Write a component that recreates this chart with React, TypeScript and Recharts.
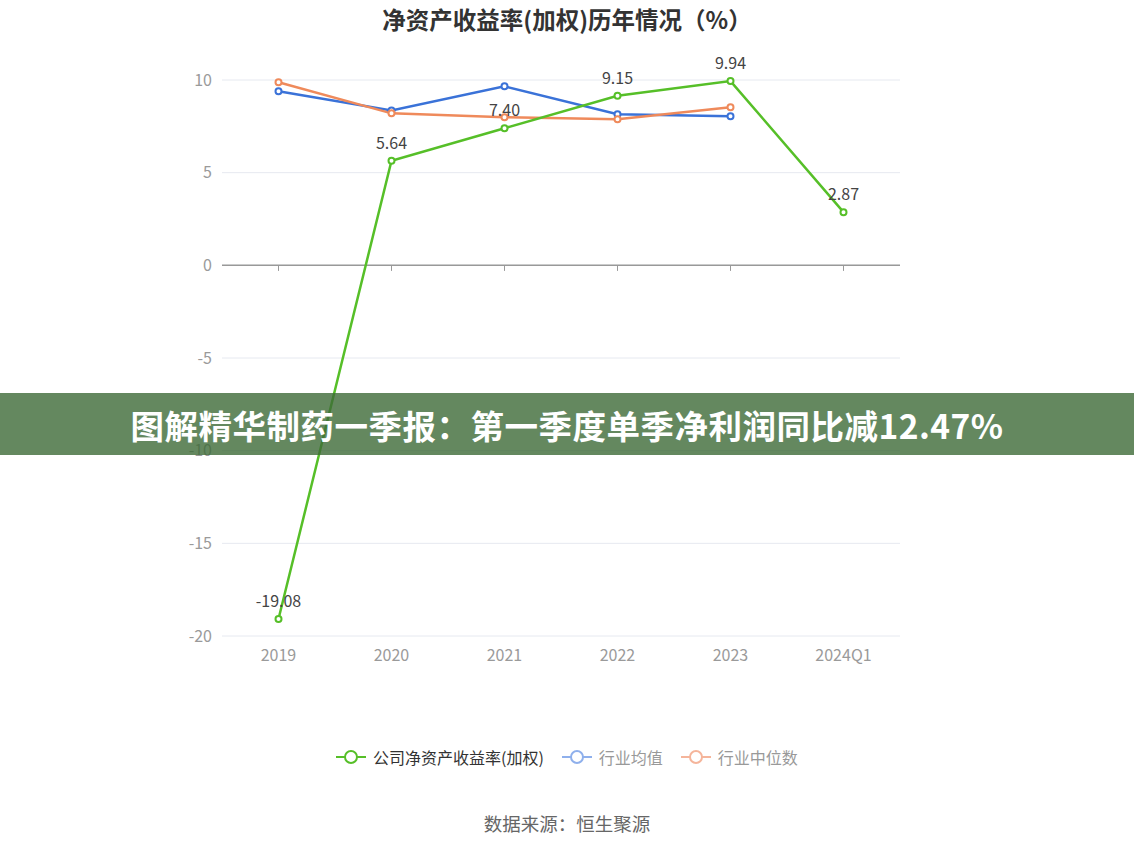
import React from 'react';
import {
  LineChart,
  Line,
  XAxis,
  YAxis,
  CartesianGrid,
  ReferenceLine,
  LabelList,
} from 'recharts';

const years = ['2019', '2020', '2021', '2022', '2023', '2024Q1'];
const companyRoe = [-19.08, 5.64, 7.4, 9.15, 9.94, 2.87];
const industryMean = [9.39, 8.36, 9.66, 8.15, 8.04, null];
const industryMedian = [9.88, 8.2, 7.99, 7.88, 8.53, null];
const yTicks = [-20, -15, -10, -5, 0, 5, 10];

const GREEN = '#56bf28';
const BLUE = '#3a72d8';
const ORANGE = '#ef8a5b';
const FONT = '"Microsoft YaHei", "Noto Sans CJK SC", "Noto Sans", sans-serif';

const data = years.map((year, i) => ({
  year,
  company: companyRoe[i],
  mean: industryMean[i],
  median: industryMedian[i],
}));

function LegendItem({ color, label, textColor }: { color: string; label: string; textColor: string }) {
  return (
    <div style={{ display: 'flex', alignItems: 'center', marginRight: 18 }}>
      <svg width={30} height={16}>
        <line x1={0} y1={8} x2={30} y2={8} stroke={color} strokeWidth={2} />
        <circle cx={15} cy={8} r={6} fill="#fff" stroke={color} strokeWidth={2} />
      </svg>
      <span style={{ marginLeft: 7, fontSize: 16, color: textColor }}>{label}</span>
    </div>
  );
}

export default function App() {
  return (
    <div
      style={{
        position: 'absolute',
        left: 0,
        top: 0,
        width: 1134,
        height: 849,
        background: '#fff',
        fontFamily: FONT,
        overflow: 'hidden',
      }}
    >
      <div
        style={{
          position: 'absolute',
          top: 2,
          width: 1134,
          textAlign: 'center',
          fontSize: 23.5,
          fontWeight: 'bold',
          color: '#333',
        }}
      >
        净资产收益率(加权)历年情况（%）
      </div>
      <div style={{ position: 'absolute', left: 0, top: 0 }}>
        <LineChart
          width={1134}
          height={849}
          data={data}
          margin={{ top: 80, right: 234, bottom: 183, left: 162 }}
        >
          <CartesianGrid vertical={false} stroke="#e6e9f0" />
          <XAxis
            dataKey="year"
            axisLine={false}
            tickLine={false}
            height={30}
            padding={{ left: 56.5, right: 56.5 }}
            tick={{ fill: '#9a9a9a', fontSize: 16, fontFamily: FONT }}
            tickMargin={8}
          />
          <YAxis
            width={60}
            domain={[-20, 10]}
            ticks={yTicks}
            axisLine={false}
            tickLine={false}
            tick={{ fill: '#9a9a9a', fontSize: 16, fontFamily: FONT }}
            tickMargin={4}
          />
          <ReferenceLine y={0} stroke="#999" strokeWidth={1.5} />
          {years.map((year) => (
            <ReferenceLine
              key={year}
              segment={[
                { x: year, y: 0 },
                { x: year, y: -0.3 },
              ]}
              stroke="#999"
              strokeWidth={1}
            />
          ))}
          <Line
            dataKey="mean"
            stroke={BLUE}
            strokeWidth={2.5}
            dot={{ r: 3, fill: '#fff', stroke: BLUE, strokeWidth: 2 }}
            isAnimationActive={false}
          />
          <Line
            dataKey="median"
            stroke={ORANGE}
            strokeWidth={2.5}
            dot={{ r: 3, fill: '#fff', stroke: ORANGE, strokeWidth: 2 }}
            isAnimationActive={false}
          />
          <Line
            dataKey="company"
            stroke={GREEN}
            strokeWidth={2.5}
            dot={{ r: 3, fill: '#fff', stroke: GREEN, strokeWidth: 2 }}
            isAnimationActive={false}
          >
            <LabelList
              dataKey="company"
              position="top"
              offset={12}
              formatter={(v: number) => v.toFixed(2)}
              style={{ fill: '#444', fontSize: 16, fontFamily: FONT }}
            />
          </Line>
        </LineChart>
      </div>
      <div
        style={{
          position: 'absolute',
          top: 745,
          left: 336,
          display: 'flex',
          alignItems: 'center',
        }}
      >
        <LegendItem color={GREEN} label="公司净资产收益率(加权)" textColor="#333" />
        <LegendItem color="#8fb0ec" label="行业均值" textColor="#999" />
        <LegendItem color="#f5b59b" label="行业中位数" textColor="#999" />
      </div>
      <div
        style={{
          position: 'absolute',
          top: 810,
          width: 1134,
          textAlign: 'center',
          fontSize: 18.5,
          color: '#666',
        }}
      >
        数据来源：恒生聚源
      </div>
      <div
        style={{
          position: 'absolute',
          left: 0,
          top: 393,
          width: 1134,
          height: 62,
          background: 'rgba(61,106,55,0.8)',
          display: 'flex',
          alignItems: 'center',
          justifyContent: 'center',
          color: '#fff',
          fontSize: 33.5,
          fontWeight: 'bold',
          letterSpacing: 0.5,
        }}
      >
        图解精华制药一季报：第一季度单季净利润同比减12.47%
      </div>
    </div>
  );
}
